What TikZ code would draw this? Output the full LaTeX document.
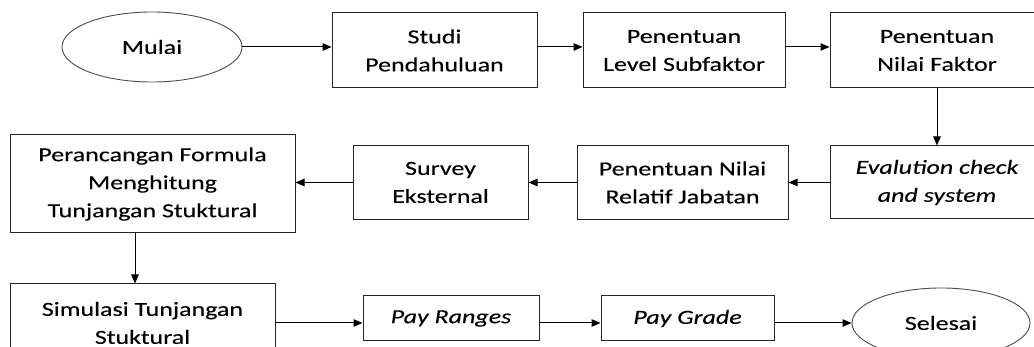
\documentclass[tikz,border=0pt]{standalone}
\usepackage{fontspec}
\setmainfont{Carlito}[FakeStretch=1.3,FakeBold=0.15]
\usetikzlibrary{arrows.meta,shapes.geometric,calc}
\begin{document}
\begin{tikzpicture}[x=1pt,y=-1pt,
  box/.style={draw=black!85,line width=1pt,rectangle,align=center,inner sep=0pt,
    font=\fontsize{20}{28}\selectfont,text=black},
  oval/.style={draw=black!70,line width=0.9pt,ellipse,inner sep=0pt,
    font=\fontsize{20}{28}\selectfont,text=black},
  arr/.style={draw=black,line width=1pt,-{Triangle[length=9pt,width=7.5pt]}}]
\useasboundingbox (0,0) rectangle (1034,347);
\clip (0,0) rectangle (1034,347);
\fill[white] (0,0) rectangle (1034,347);
% row 1
\node[oval,minimum width=180,minimum height=70] (mulai) at (152,47) {Mulai};
\node[box,minimum width=205,minimum height=75] (studi) at (434.5,50.5) {Studi\\Pendahuluan};
\node[box,minimum width=202,minimum height=75] (level) at (684,50.5) {Penentuan\\Level Subfaktor};
\node[box,minimum width=214,minimum height=75] (faktor) at (937,50.5) {Penentuan\\Nilai Faktor};
% row 2
\node[box,minimum width=214,minimum height=73] (eval) at (937,182.5) {\itshape Evalution check\\\itshape and system};
\node[box,minimum width=211,minimum height=74] (relatif) at (682.5,182.5) {Penentuan Nilai\\Relatif Jabatan};
\node[box,minimum width=175,minimum height=74] (survey) at (440.5,182.5) {Survey\\Eksternal};
\node[box,minimum width=285,minimum height=98] (formula) at (152.5,184) {Perancangan Formula\\Menghitung\\Tunjangan Stuktural};
% row 3
\node[box,minimum width=265,minimum height=78] (sim) at (142.5,323) {Simulasi Tunjangan\\Stuktural};
\node[box,minimum width=176,minimum height=45] (range) at (451,318.5) {\itshape Pay Ranges};
\node[box,minimum width=173,minimum height=45] (grade) at (687.5,318.5) {\itshape Pay Grade};
\node[oval,minimum width=178,minimum height=70] (selesai) at (941,323) {Selesai};
% connectors
\draw[arr] (mulai.east) -- (studi.west |- mulai.east);
\draw[arr] (studi.east |- mulai.east) -- (level.west |- mulai.east);
\draw[arr] (level.east |- mulai.east) -- (faktor.west |- mulai.east);
\draw[arr] (faktor.south) -- (eval.north);
\draw[arr] (eval.west) -- (relatif.east);
\draw[arr] (relatif.west) -- (survey.east);
\draw[arr] (survey.west) -- (formula.east |- survey.west);
\draw[arr] ([xshift=-17.5pt]formula.south) -- ([xshift=-17.5pt]formula.south |- sim.north);
\draw[arr] (sim.east) -- (range.west |- sim.east);
\draw[arr] (range.east |- sim.east) -- (grade.west |- sim.east);
\draw[arr] (grade.east |- sim.east) -- (selesai.west);
\end{tikzpicture}
\end{document}
